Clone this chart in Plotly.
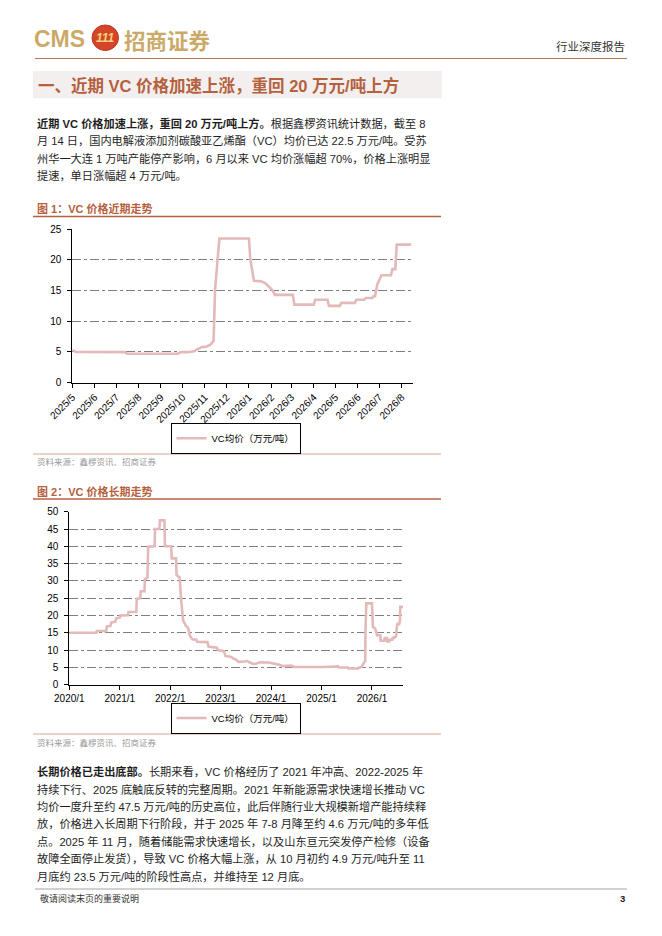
import plotly.graph_objects as go

W, H = 662, 936

# 图1: VC price, recent (万元/吨)
recent_dates = [
    "2025-05-01", "2025-05-06", "2025-07-13", "2025-07-16", "2025-09-24", "2025-09-29",
    "2025-10-08", "2025-10-17", "2025-10-21", "2025-10-28", "2025-11-03", "2025-11-09",
    "2025-11-13", "2025-11-15", "2025-11-21", "2026-01-01", "2026-01-03", "2026-01-08",
    "2026-01-18", "2026-01-24", "2026-02-03", "2026-02-06", "2026-03-03", "2026-03-05",
    "2026-04-01", "2026-04-03", "2026-04-20", "2026-04-22", "2026-05-07", "2026-05-09",
    "2026-05-28", "2026-05-30", "2026-06-10", "2026-06-12", "2026-06-21", "2026-06-23",
    "2026-06-25", "2026-06-28", "2026-07-04", "2026-07-17", "2026-07-19", "2026-07-23",
    "2026-07-25", "2026-08-14",
]
recent_prices = [
    5.3, 5.0, 4.95, 4.7, 4.7, 4.95,
    4.95, 5.1, 5.4, 5.8, 5.85, 6.2,
    6.8, 15.1, 23.5, 23.5, 20.0, 16.6,
    16.5, 16.2, 15.0, 14.3, 14.3, 12.7,
    12.7, 13.5, 13.5, 12.5, 12.5, 13.0,
    13.0, 13.5, 13.5, 13.8, 13.8, 14.1,
    14.1, 16.0, 17.5, 17.5, 18.5, 18.5,
    22.5, 22.5,
]

# 图2: earlier history, joined with the recent series
history_dates = [
    "2020-01-01", "2020-07-15", "2020-07-18", "2020-09-25", "2020-09-28", "2020-10-25",
    "2020-11-01", "2020-11-30", "2020-12-05", "2020-12-31", "2021-01-05", "2021-03-01",
    "2021-03-05", "2021-04-30", "2021-05-04", "2021-05-28", "2021-06-02", "2021-06-28",
    "2021-07-02", "2021-07-20", "2021-07-25", "2021-09-10", "2021-09-13", "2021-10-15",
    "2021-10-18", "2021-11-20", "2021-11-24", "2022-01-08", "2022-01-12", "2022-02-12",
    "2022-02-16", "2022-03-10", "2022-03-22", "2022-04-05", "2022-04-25", "2022-05-10",
    "2022-05-25", "2022-06-10", "2022-07-10", "2022-07-15", "2022-09-28", "2022-10-05",
    "2022-12-05", "2022-12-12", "2023-01-25", "2023-02-05", "2023-03-20", "2023-04-01",
    "2023-04-25", "2023-05-10", "2023-06-25", "2023-07-10", "2023-08-01", "2023-08-25",
    "2023-09-20", "2023-10-10", "2023-12-15", "2024-01-20", "2024-02-25", "2024-03-25",
    "2024-05-25", "2024-06-20", "2024-09-30", "2025-01-10", "2025-03-10", "2025-04-15",
]
history_prices = [
    15.0, 15.0, 15.5, 15.5, 16.8, 17.0,
    18.0, 18.2, 19.2, 19.4, 20.0, 20.1,
    21.0, 21.1, 24.8, 25.0, 27.0, 27.0,
    30.5, 31.0, 39.9, 40.0, 45.0, 45.0,
    47.5, 47.5, 40.0, 40.0, 36.5, 36.5,
    31.7, 31.0, 24.0, 18.5, 17.0, 16.5,
    14.0, 13.1, 13.0, 12.4, 12.3, 11.0,
    10.7, 10.0, 9.7, 8.3, 8.0, 7.6,
    7.2, 6.6, 6.7, 6.9, 6.4, 6.0,
    6.1, 6.5, 6.4, 6.2, 5.8, 5.4,
    5.5, 5.1, 5.0, 5.1, 5.2, 5.2,
]

long_dates = history_dates + recent_dates
long_prices = history_prices + recent_prices

series_name = "VC均价（万元/吨）"

para1 = [
    "<b>近期 VC 价格加速上涨，重回 20 万元/吨上方。</b>根据鑫椤资讯统计数据，截至 8",
    "月 14 日，国内电解液添加剂碳酸亚乙烯酯（VC）均价已达 22.5 万元/吨。受苏",
    "州华一大连 1 万吨产能停产影响，6 月以来 VC 均价涨幅超 70%，价格上涨明显",
    "提速，单日涨幅超 4 万元/吨。",
]
para2 = [
    "<b>长期价格已走出底部。</b>长期来看，VC 价格经历了 2021 年冲高、2022-2025 年",
    "持续下行、2025 底触底反转的完整周期。2021 年新能源需求快速增长推动 VC",
    "均价一度升至约 47.5 万元/吨的历史高位，此后伴随行业大规模新增产能持续释",
    "放，价格进入长周期下行阶段，并于 2025 年 7-8 月降至约 4.6 万元/吨的多年低",
    "点。2025 年 11 月，随着储能需求快速增长，以及山东亘元突发停产检修（设备",
    "故障全面停止发货），导致 VC 价格大幅上涨，从 10 月初约 4.9 万元/吨升至 11",
    "月底约 23.5 万元/吨的阶段性高点，并维持至 12 月底。",
]

ACCENT = "#B5613E"
PINK = "#E4B9B9"
GOLD = "#CBAA68"
GRID = "#7F7F7F"
FONT = "Arial, Liberation Sans, Noto Sans CJK SC"
CJK = "Noto Sans CJK SC"


def fx(px):
    return px / W


def fy(py):
    return 1 - py / H


fig = go.Figure()

fig.add_trace(go.Scatter(x=recent_dates, y=recent_prices, mode="lines", name=series_name,
                         line=dict(color=PINK, width=2.6), xaxis="x", yaxis="y",
                         legend="legend", showlegend=True))
fig.add_trace(go.Scatter(x=long_dates, y=long_prices, mode="lines", name=series_name,
                         line=dict(color=PINK, width=2.6), xaxis="x2", yaxis="y2",
                         legend="legend2", showlegend=True))

axis_common = dict(showline=True, linecolor="black", linewidth=1, ticks="outside", ticklen=4,
                   tickcolor="black", tickfont=dict(size=10, color="black", family=FONT),
                   zeroline=False, automargin=False)

legend_style = dict(xanchor="center", yanchor="middle", bordercolor="black", borderwidth=1,
                    bgcolor="white", font=dict(size=9.5, family=FONT, color="black"))

fig.update_layout(
    width=W, height=H, autosize=False, showlegend=True,
    margin=dict(l=0, r=0, t=0, b=0, pad=0),
    paper_bgcolor="white", plot_bgcolor="white",
    font=dict(family=FONT, color="#222"),
    xaxis=dict(domain=[fx(72.3), fx(413.3)], anchor="y", type="date",
               range=["2025-05-01", "2026-08-17"], dtick="M1", tick0="2025-05-01",
               tickformat="%Y/%-m", tickangle=-45, showgrid=False, **axis_common),
    yaxis=dict(domain=[fy(382.5), fy(229.3)], anchor="x", range=[0, 25], dtick=5,
               showgrid=True, gridcolor=GRID, griddash="dashdot", gridwidth=1,
               ticklabelstandoff=4, **axis_common),
    xaxis2=dict(domain=[fx(69.3), fx(403.3)], anchor="y2", type="date",
                range=["2020-01-01", "2026-08-16"], dtick="M12", tick0="2020-01-01",
                tickformat="%Y/%-m", tickangle=0, showgrid=False, **axis_common),
    yaxis2=dict(domain=[fy(684.7), fy(511.7)], anchor="x2", range=[0, 50], dtick=5,
                showgrid=True, gridcolor=GRID, griddash="dashdot", gridwidth=1,
                ticklabelstandoff=4, **axis_common),
    legend=dict(x=fx(235.5), y=fy(438.3), **legend_style),
    legend2=dict(x=fx(235.5), y=fy(718), **legend_style),
)

shapes = []
# header rule, title band, caption rules, source rules, footer rule
shapes.append(dict(type="line", xref="paper", yref="paper", x0=fx(35), x1=fx(627), y0=fy(58.5), y1=fy(58.5),
                   line=dict(color="#B8735A", width=1)))
shapes.append(dict(type="rect", xref="paper", yref="paper", x0=fx(33), x1=fx(441.7), y0=fy(98.3), y1=fy(71),
                   fillcolor="#F2EFEE", line=dict(width=0), layer="below"))
for py in (216.5, 499):
    shapes.append(dict(type="line", xref="paper", yref="paper", x0=fx(33), x1=fx(441), y0=fy(py), y1=fy(py),
                       line=dict(color=ACCENT, width=1.3)))
for py in (454, 734):
    shapes.append(dict(type="line", xref="paper", yref="paper", x0=fx(33), x1=fx(441), y0=fy(py), y1=fy(py),
                       line=dict(color="#C9907A", width=0.8)))
shapes.append(dict(type="line", xref="paper", yref="paper", x0=fx(35), x1=fx(627), y0=fy(889), y1=fy(889),
                   line=dict(color="#8C8C8C", width=0.8)))
# logo ball
shapes.append(dict(type="circle", xref="paper", yref="paper", x0=fx(92), x1=fx(118.5), y0=fy(50.5), y1=fy(25),
                   fillcolor="#D4462A", line=dict(color="#B8351E", width=1)))
fig.update_layout(shapes=shapes)


def note(text, px, py, size, color="#222", anchor="left", family=CJK):
    fig.add_annotation(text=text, x=fx(px), y=fy(py), xref="paper", yref="paper",
                       xanchor=anchor, yanchor="middle", showarrow=False,
                       font=dict(size=size, color=color, family=family))


note("<b>CMS</b>", 32, 39.5, 23, GOLD, family="Arial, Liberation Sans")
note("<b><i>111</i></b>", 105.3, 38, 12, "#F6D27A", anchor="center", family="Arial, Liberation Sans")
note("<b>招商证券</b>", 122, 39.5, 21.5, GOLD)
note("行业深度报告", 627, 45.5, 11.5, "#333", anchor="right")

note("<b>一、近期 VC 价格加速上涨，重回 20 万元/吨上方</b>", 36, 85, 16.5, ACCENT, family=FONT)

for i, line in enumerate(para1):
    note(line, 35, 123.5 + 17.4 * i, 11.2, "#1E1E1E", family=FONT)

note("<b>图 1：VC 价格近期走势</b>", 35, 209, 11, ACCENT, family=FONT)
note("资料来源：鑫椤资讯、招商证券", 35, 461, 8.5, "#9A9A9A")
note("<b>图 2：VC 价格长期走势</b>", 35, 491.5, 11, ACCENT, family=FONT)
note("资料来源：鑫椤资讯、招商证券", 35, 742, 8.5, "#9A9A9A")

for i, line in enumerate(para2):
    note(line, 35, 771.7 + 17.4 * i, 11.2, "#1E1E1E", family=FONT)

note("敬请阅读末页的重要说明", 38, 898, 9, "#333")
note("<b>3</b>", 627, 898, 9.5, "#222", anchor="right", family=FONT)

fig.write_html("out.html", config={"displayModeBar": False},
               post_script="document.body.style.margin='0';")
